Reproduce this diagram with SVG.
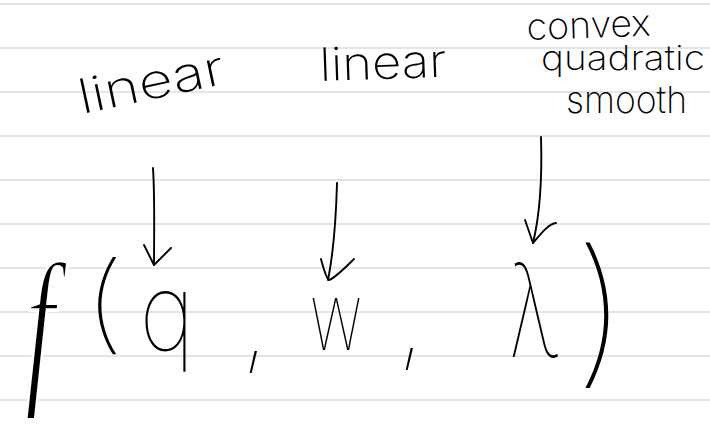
<svg xmlns="http://www.w3.org/2000/svg" width="710" height="427" viewBox="0 0 710 427">
<style>
.rule{stroke:#dcdcdc;stroke-width:1.6;fill:none}
.ink{stroke:#000;stroke-width:1.9;fill:none;stroke-linecap:round;stroke-linejoin:round}
.hw{font-family:Inter,Roboto,Lato,"Liberation Sans",sans-serif;font-weight:200;fill:#000}
.fx{font-family:Inter,Roboto,Lato,"Liberation Sans",sans-serif;font-weight:100;fill:#000}
.fn{font-family:"Liberation Serif","DejaVu Serif",serif;font-style:italic;fill:#000;stroke:#fff;stroke-width:3.2}
</style>
<rect width="710" height="427" fill="#fff"/>
<g id="rules">
<line class="rule" x1="0" y1="4" x2="710" y2="4"/>
<line class="rule" x1="0" y1="48" x2="710" y2="48"/>
<line class="rule" x1="0" y1="92" x2="710" y2="92"/>
<line class="rule" x1="0" y1="136" x2="710" y2="136"/>
<line class="rule" x1="0" y1="180" x2="710" y2="180"/>
<line class="rule" x1="0" y1="224" x2="710" y2="224"/>
<line class="rule" x1="0" y1="268" x2="710" y2="268"/>
<line class="rule" x1="0" y1="312" x2="710" y2="312"/>
<line class="rule" x1="0" y1="356" x2="710" y2="356"/>
<line class="rule" x1="0" y1="400" x2="710" y2="400"/>
</g>
<g id="label-q">
<text class="hw" x="0" y="0" font-size="48" textLength="148" lengthAdjust="spacingAndGlyphs" transform="translate(82,114) rotate(-12)">linear</text>
</g>
<g id="label-w">
<text class="hw" x="0" y="0" font-size="46" textLength="127" lengthAdjust="spacingAndGlyphs" transform="translate(320,81) rotate(-2)">linear</text>
</g>
<g id="label-lambda">
<text class="hw" x="0" y="0" font-size="37" textLength="124" lengthAdjust="spacingAndGlyphs" transform="translate(527,40) rotate(-2)">convex</text>
<text class="hw" x="541" y="70" font-size="34" textLength="164" lengthAdjust="spacingAndGlyphs">quadratic</text>
<text class="hw" x="566" y="113" font-size="37" textLength="121" lengthAdjust="spacingAndGlyphs">smooth</text>
</g>
<g id="connectors">
<path class="ink" d="M153,168 C155,200 154,235 154,265"/>
<path class="ink" d="M144,245 L154,265 L171,248"/>
<path class="ink" d="M337,183 C336,220 333,255 328,280"/>
<path class="ink" d="M321,259 C324,270 326,278 329,280 C335,278 345,268 354,259"/>
<path class="ink" d="M541,137 C542,170 541,210 533,243"/>
<path class="ink" d="M525,220 L533,243 C540,235 548,224 556,223"/>
</g>
<g id="formula">
<text class="fn" text-anchor="middle" font-size="174" vector-effect="non-scaling-stroke" transform="translate(40,383) scale(0.62,1)">f</text>
<text class="fx" text-anchor="middle" font-size="107" transform="translate(104,340) scale(1.3,1)">(</text>
<text class="fx" text-anchor="middle" font-size="95" transform="translate(167,350) scale(1,1.12)">q</text>
<text class="fx" text-anchor="middle" font-size="100" x="255" y="358">,</text>
<text class="fx" text-anchor="middle" font-size="65" transform="translate(336,350) scale(1,1.47)">w</text>
<text class="fx" text-anchor="middle" font-size="100" x="411" y="355">,</text>
<text class="fx" text-anchor="middle" font-size="129" transform="translate(534,357) scale(0.62,1)">λ</text>
<text class="fx" text-anchor="middle" font-size="160" transform="translate(601,366) scale(1.1,1)">)</text>
</g>
</svg>
